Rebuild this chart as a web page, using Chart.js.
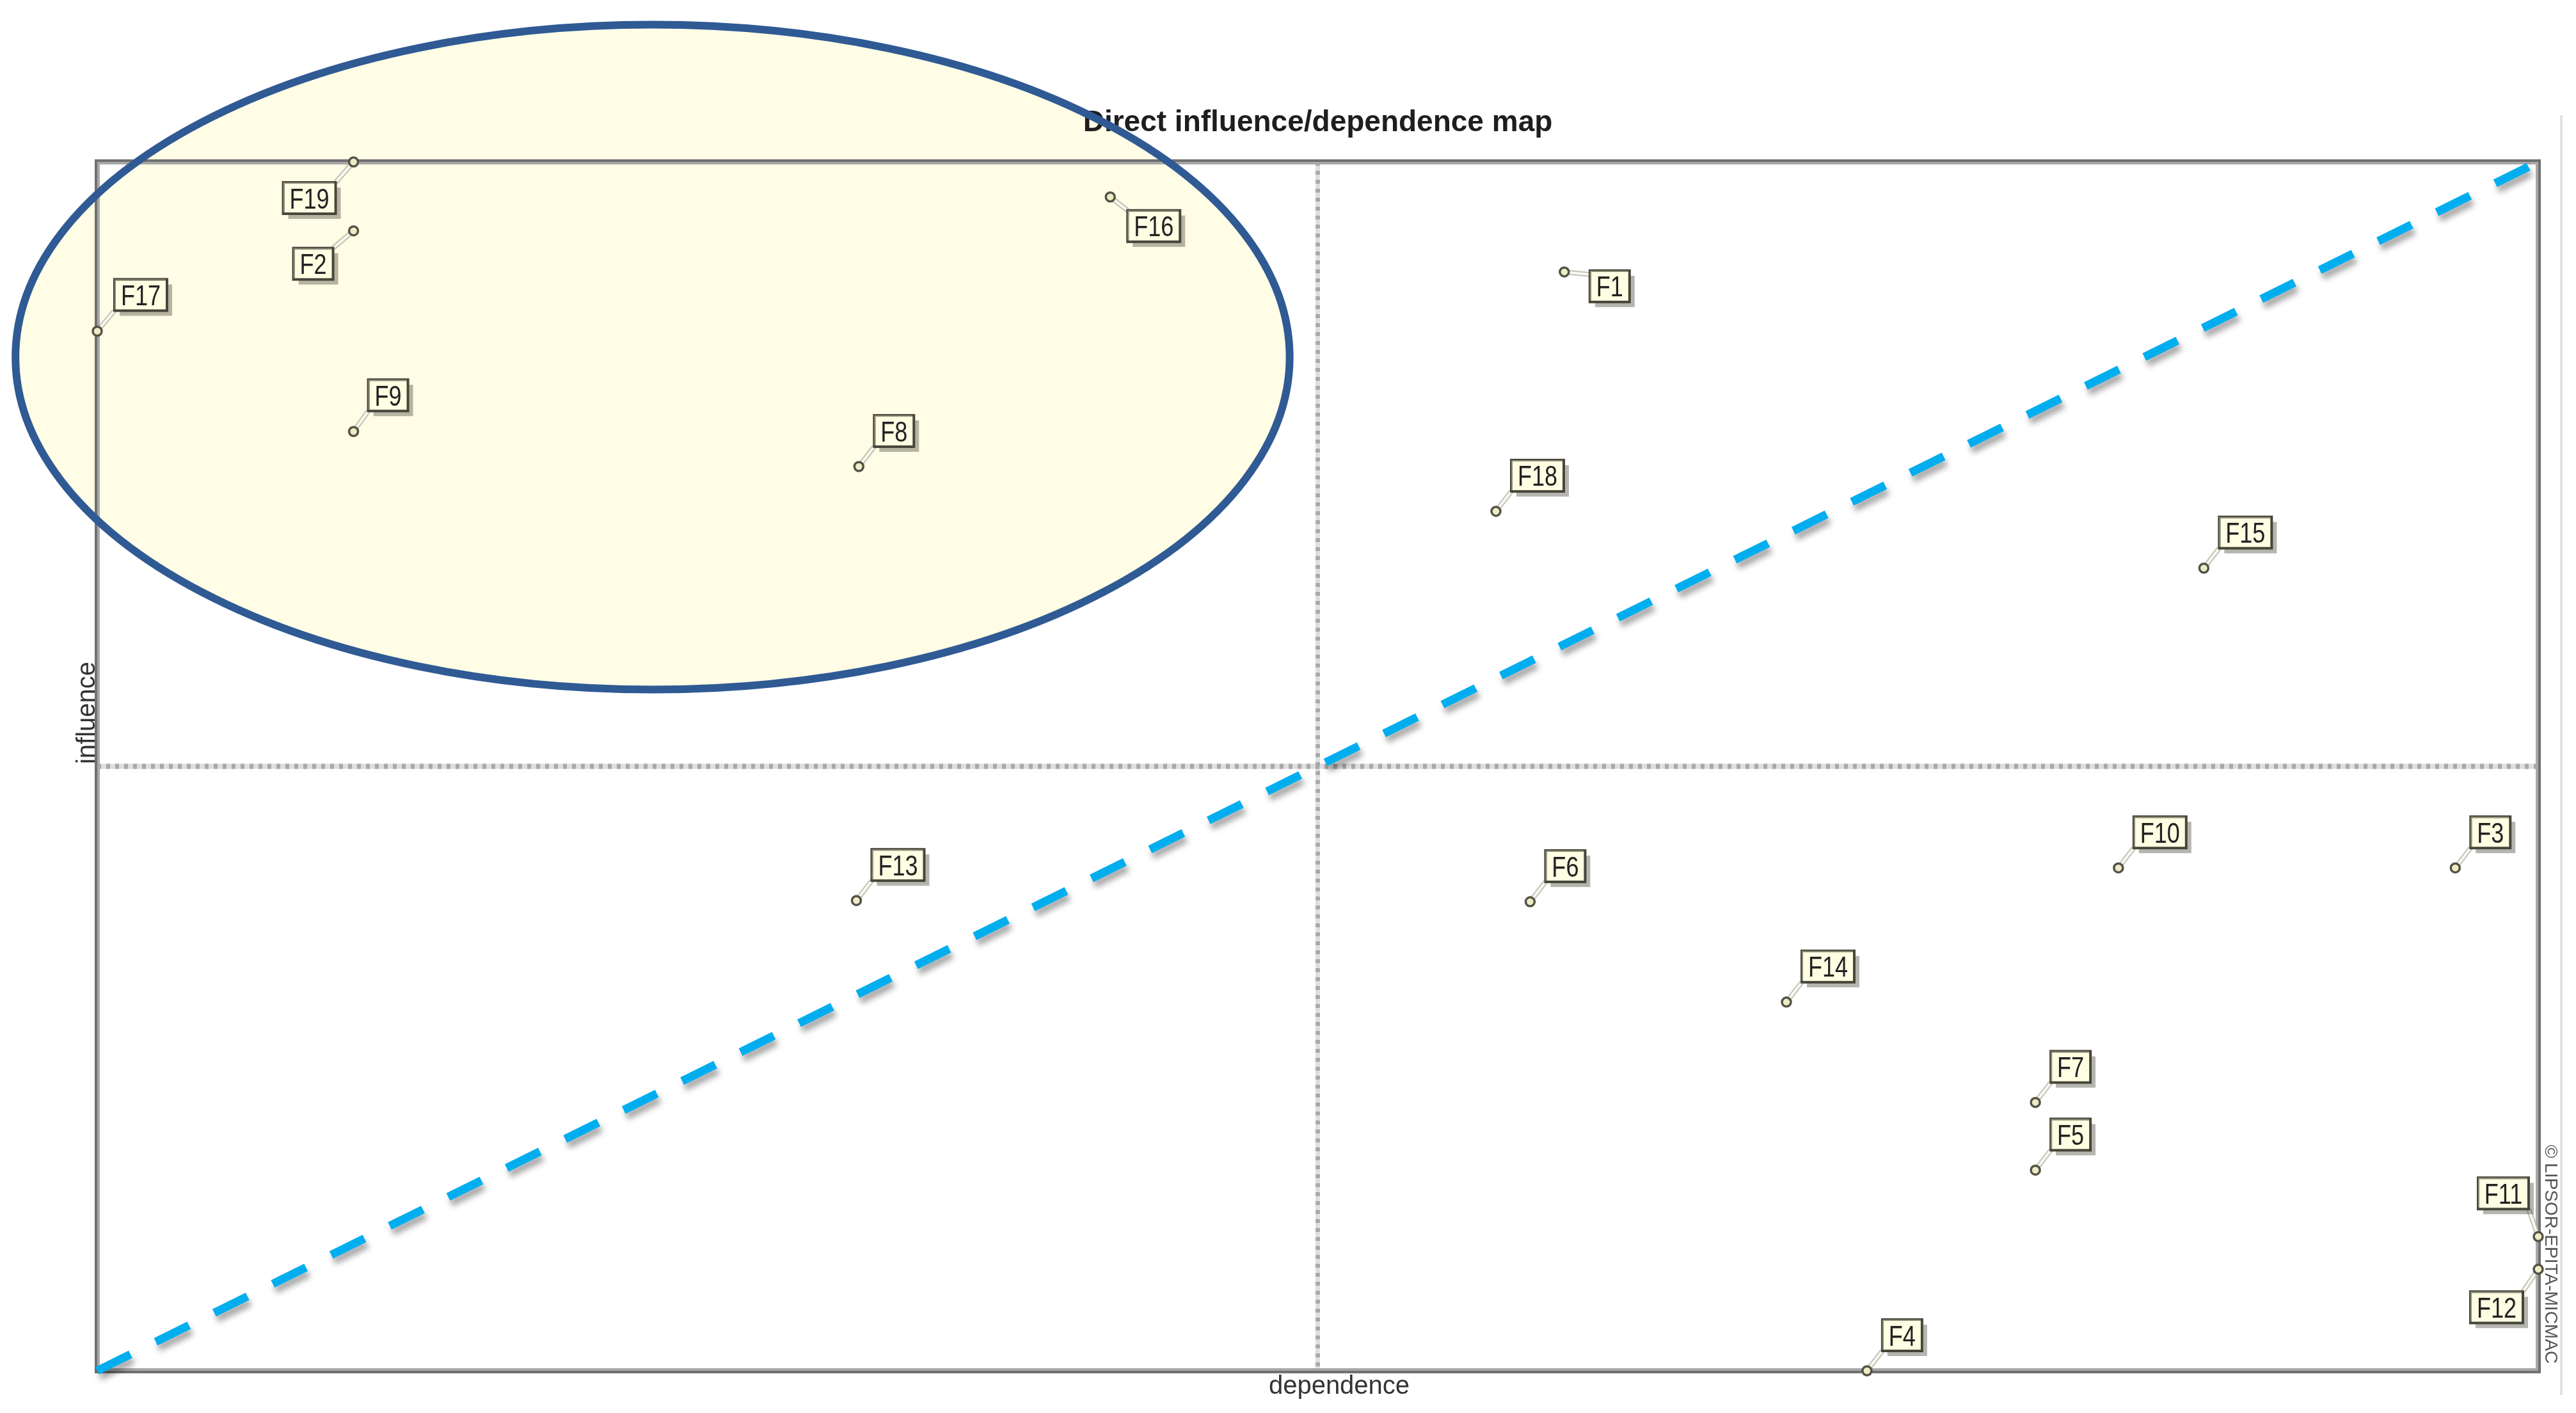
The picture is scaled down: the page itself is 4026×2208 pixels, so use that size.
<!DOCTYPE html>
<html><head><meta charset="utf-8">
<script src="https://cdn.jsdelivr.net/npm/chart.js@4.4.1/dist/chart.umd.min.js"></script>
<style>html,body{margin:0;padding:0;background:#fff;overflow:hidden}canvas{display:block}</style>
</head><body>
<canvas id="c" width="4026" height="2208"></canvas>
<script>
// ---- data ----
const chartTitle = 'Direct influence/dependence map';
const xAxisLabel = 'dependence';
const yAxisLabel = 'influence';
const creditText = '© LIPSOR-EPITA-MICMAC';
const categories = ['F1','F2','F3','F4','F5','F6','F7','F8','F9','F10','F11','F12','F13','F14','F15','F16','F17','F18','F19'];
const dependence = [60.1, 10.5, 96.6, 72.5, 79.4, 58.7, 79.4, 31.2, 10.5, 82.8, 100, 100, 31.1, 69.2, 86.3, 41.5, 0, 57.3, 10.5];
const influence  = [90.9, 94.3, 41.6, 0, 16.6, 38.8, 22.2, 74.8, 77.7, 41.6, 11.1, 8.4, 38.9, 30.5, 66.4, 97.1, 86.0, 71.1, 100];
const axisMin = 0;
const axisMax = 100;
const axisMid = 50;
const diagonalX = [0, 100];
const diagonalY = [0, 100];
// highlighted group (in data units)
const groupCenter = [22.75, 83.85];
const groupRadii = [26.1, 27.5];

// ---- label placement (style only) ----
const placement = {
  F16: {side: 'lr', dx: 27, dy: 21},
  F1:  {side: 'r',  dx: 40, dy: -2},
  F19: {side: 'll', dx: 28, dy: 32},
  F2:  {side: 'll', dx: 32, dy: 27},
  F12: {side: 'll', dx: 24, dy: 35},
  F11: {side: 'ul', dx: 15, dy: 43},
  F17: {side: 'ur', dx: 27, dy: 32},
  F9:  {side: 'ur', dx: 23, dy: 32}
};
const LABEL_FONT = '44px "Liberation Sans", Arial, sans-serif';
const LABEL_SX = 0.82;

function labelBox(ctx, name, mx, my) {
  ctx.save();
  ctx.font = LABEL_FONT;
  const tw = ctx.measureText(name).width * LABEL_SX;
  ctx.restore();
  const w = Math.round(tw + 20), h = 49;
  const p = placement[name] || {side: 'ur', dx: 24, dy: 31};
  let bx, by, ax, ay;
  if (p.side === 'ur') { bx = mx + p.dx; by = my - p.dy - h; ax = bx; ay = by + h; }
  else if (p.side === 'lr') { bx = mx + p.dx; by = my + p.dy; ax = bx; ay = by; }
  else if (p.side === 'r') { bx = mx + p.dx; by = my + p.dy; ax = bx; ay = my + 4; }
  else if (p.side === 'll') { bx = mx - p.dx - w; by = my + p.dy; ax = bx + w; ay = by; }
  else { bx = mx - p.dx - w; by = my - p.dy - h; ax = bx + w; ay = by + h; }
  return {bx, by, w, h, ax, ay};
}

function ellipseGeom(chart) {
  const xs = chart.scales.x, ys = chart.scales.y;
  const cx = xs.getPixelForValue(groupCenter[0]), cy = ys.getPixelForValue(groupCenter[1]);
  const rx = Math.abs(xs.getPixelForValue(groupCenter[0] + groupRadii[0]) - cx);
  const ry = Math.abs(ys.getPixelForValue(groupCenter[1] + groupRadii[1]) - cy);
  return {cx, cy, rx, ry};
}

const overlay = {
  id: 'overlay',
  beforeDraw(chart) {
    const ctx = chart.ctx;
    ctx.save();
    ctx.fillStyle = '#ffffff';
    ctx.fillRect(0, 0, chart.width, chart.height);
    const e = ellipseGeom(chart);
    ctx.beginPath();
    ctx.ellipse(e.cx, e.cy, e.rx, e.ry, 0, 0, Math.PI * 2);
    ctx.fillStyle = '#FFFDE6';
    ctx.fill();
    ctx.restore();
  },
  beforeDatasetsDraw(chart) {
    const ctx = chart.ctx, a = chart.chartArea, xs = chart.scales.x, ys = chart.scales.y;
    ctx.save();
    // centre dotted lines
    const mx = xs.getPixelForValue(axisMid), my = ys.getPixelForValue(axisMid);
    ctx.lineWidth = 8;
    ctx.strokeStyle = 'rgba(200,200,200,0.6)';
    ctx.beginPath(); ctx.moveTo(a.left, my); ctx.lineTo(a.right, my); ctx.stroke();
    ctx.lineWidth = 7;
    ctx.beginPath(); ctx.moveTo(mx, a.top); ctx.lineTo(mx, a.bottom); ctx.stroke();
    ctx.setLineDash([6, 8]);
    ctx.strokeStyle = '#a9a9a9';
    ctx.lineWidth = 8;
    ctx.beginPath(); ctx.moveTo(a.left, my); ctx.lineTo(a.right, my); ctx.stroke();
    ctx.lineWidth = 7;
    ctx.beginPath(); ctx.moveTo(mx, a.top); ctx.lineTo(mx, a.bottom); ctx.stroke();
    ctx.setLineDash([]);
    // frame
    ctx.lineWidth = 4;
    ctx.strokeStyle = '#707070';
    ctx.strokeRect(a.left - 2, a.top - 2, a.right - a.left + 4, a.bottom - a.top + 4);
    ctx.strokeStyle = '#a8a8a8';
    ctx.strokeRect(a.left + 2, a.top + 2, a.right - a.left - 4, a.bottom - a.top - 4);
    // leader lines
    const meta = chart.getDatasetMeta(0);
    meta.data.forEach((pt, i) => {
      const b = labelBox(ctx, categories[i], pt.x, pt.y);
      ctx.lineCap = 'butt';
      ctx.strokeStyle = 'rgba(180,180,165,0.75)';
      ctx.lineWidth = 8;
      ctx.beginPath(); ctx.moveTo(pt.x, pt.y); ctx.lineTo(b.ax, b.ay); ctx.stroke();
      ctx.strokeStyle = '#fbfbf4';
      ctx.lineWidth = 3.5;
      ctx.beginPath(); ctx.moveTo(pt.x, pt.y); ctx.lineTo(b.ax, b.ay); ctx.stroke();
    });
    ctx.restore();
  },
  beforeDatasetDraw(chart, args) {
    if (args.index === 1) {
      const ctx = chart.ctx;
      ctx.save();
      ctx.shadowColor = 'rgba(0,0,0,0.35)';
      ctx.shadowBlur = 10;
      ctx.shadowOffsetX = 4;
      ctx.shadowOffsetY = 9;
    }
  },
  afterDatasetDraw(chart, args) {
    if (args.index === 1) chart.ctx.restore();
  },
  afterDatasetsDraw(chart) {
    const ctx = chart.ctx;
    const meta = chart.getDatasetMeta(0);
    ctx.save();
    meta.data.forEach((pt, i) => {
      const name = categories[i];
      const b = labelBox(ctx, name, pt.x, pt.y);
      ctx.fillStyle = 'rgba(70,70,55,0.4)';
      ctx.fillRect(b.bx + 8, b.by + 8, b.w, b.h);
      ctx.fillStyle = '#FFFDE2';
      ctx.fillRect(b.bx, b.by, b.w, b.h);
      ctx.lineWidth = 4;
      ctx.strokeStyle = '#46463a';
      ctx.strokeRect(b.bx, b.by, b.w, b.h);
      ctx.strokeStyle = '#8c8c78';
      ctx.lineWidth = 2;
      ctx.beginPath();
      ctx.moveTo(b.bx + 1, b.by + b.h - 2); ctx.lineTo(b.bx + 1, b.by + 1); ctx.lineTo(b.bx + b.w - 2, b.by + 1);
      ctx.stroke();
      ctx.save();
      ctx.translate(b.bx + b.w / 2, b.by + b.h / 2 + 16);
      ctx.scale(LABEL_SX, 1);
      ctx.font = LABEL_FONT;
      ctx.fillStyle = '#222222';
      ctx.textAlign = 'center';
      ctx.textBaseline = 'alphabetic';
      ctx.fillText(name, 0, 0);
      ctx.restore();
    });
    ctx.restore();
  },
  afterDraw(chart) {
    const ctx = chart.ctx, a = chart.chartArea;
    ctx.save();
    // title
    ctx.font = 'bold 46px "Liberation Sans", Arial, sans-serif';
    ctx.fillStyle = '#1e1e1e';
    ctx.textAlign = 'center';
    ctx.textBaseline = 'alphabetic';
    ctx.fillText(chartTitle, (a.left + a.right) / 2, 205);
    // axis labels
    ctx.font = '40px "Liberation Sans", Arial, sans-serif';
    ctx.fillStyle = '#333333';
    ctx.fillText(xAxisLabel, 2093, 2178);
    ctx.save();
    ctx.translate(148, 1114);
    ctx.rotate(-Math.PI / 2);
    ctx.fillText(yAxisLabel, 0, 0);
    ctx.restore();
    // credit
    ctx.save();
    ctx.translate(3978, 1960);
    ctx.rotate(Math.PI / 2);
    ctx.font = '28px "Liberation Sans", Arial, sans-serif';
    ctx.fillStyle = '#555555';
    ctx.fillText(creditText, 0, 0);
    ctx.restore();
    // right thin gray line
    ctx.strokeStyle = '#e2e2e2';
    ctx.lineWidth = 4;
    ctx.beginPath(); ctx.moveTo(4003, 180); ctx.lineTo(4003, 2180); ctx.stroke();
    // ellipse outline
    const e = ellipseGeom(chart);
    ctx.beginPath();
    ctx.ellipse(e.cx, e.cy, e.rx, e.ry, 0, 0, Math.PI * 2);
    ctx.strokeStyle = '#2F5A94';
    ctx.lineWidth = 12;
    ctx.stroke();
    ctx.restore();
  }
};

const points = categories.map((c, i) => ({x: dependence[i], y: influence[i]}));
const diagonal = diagonalX.map((x, i) => ({x: x, y: diagonalY[i]}));

new Chart(document.getElementById('c'), {
  type: 'scatter',
  data: {
    datasets: [
      {
        label: 'Variables',
        data: points,
        pointRadius: 7,
        pointBorderWidth: 3.5,
        backgroundColor: '#eeecc6',
        borderColor: '#535345',
        clip: false
      },
      {
        label: 'Diagonal',
        type: 'line',
        data: diagonal,
        showLine: true,
        borderColor: '#00AEEF',
        borderWidth: 13,
        borderDash: [58, 44],
        borderCapStyle: 'butt',
        pointRadius: 0,
        fill: false,
        clip: false
      }
    ]
  },
  options: {
    responsive: false,
    animation: false,
    devicePixelRatio: 1,
    layout: {padding: {left: 152, right: 59, top: 253, bottom: 66}},
    plugins: {legend: {display: false}, tooltip: {enabled: false}, title: {display: false}},
    scales: {
      x: {type: 'linear', min: axisMin, max: axisMax, display: false},
      y: {type: 'linear', min: axisMin, max: axisMax, display: false}
    }
  },
  plugins: [overlay]
});
</script>
</body></html>
